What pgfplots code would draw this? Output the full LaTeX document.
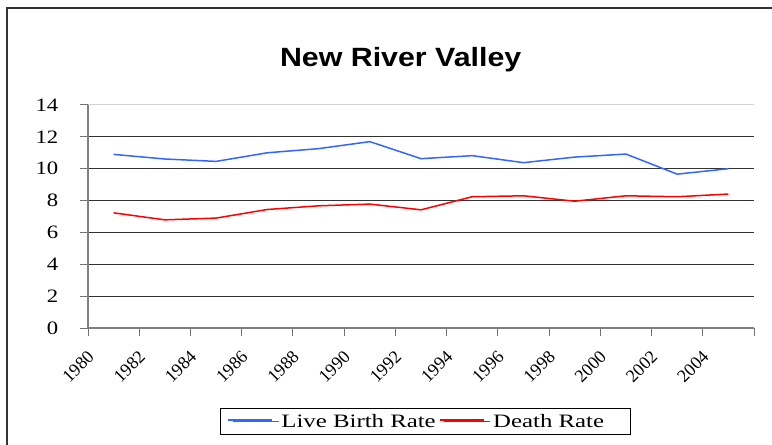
\documentclass[border=0pt]{standalone}
\usepackage{pgfplots}
\pgfplotsset{compat=1.18}
\usepackage{fontspec}
\setmainfont{Liberation Serif}
\newfontfamily\titlefont{Liberation Sans}
\definecolor{birthblue}{RGB}{51,102,255}
\definecolor{deathred}{RGB}{255,0,0}
\newcommand{\ws}[1]{\scalebox{1.2}[1]{#1}}
\newcommand{\wl}[1]{\scalebox{1.31}[1]{#1}}
\newcommand{\legline}[1]{\llap{\textcolor{#1}{\rule[6.3bp]{44bp}{1.5bp}}\hspace*{9bp}}}
\pgfplotstableread{
year birth death
1981 10.90 7.23
1983 10.61 6.79
1985 10.46 6.90
1987 11.00 7.44
1989 11.26 7.67
1991 11.70 7.78
1993 10.63 7.42
1995 10.82 8.24
1997 10.38 8.30
1999 10.73 7.96
2001 10.92 8.30
2003 9.66 8.24
2005 10.00 8.41
}\datatable
\begin{document}
\begin{tikzpicture}
\useasboundingbox (0bp,0bp) rectangle (772bp,445bp);
\fill[white] (0bp,0bp) rectangle (772bp,445bp);
\draw[black!80, line width=1.5bp] (7bp,-2bp) -- (7bp,437bp) -- (775bp,437bp);
\node[anchor=base, font=\titlefont\bfseries\fontsize{26.5}{30}\selectfont] at (400.7bp,378bp) {\scalebox{1.15}[1]{New River Valley}};
\begin{axis}[
  at={(88bp,117bp)}, anchor=south west,
  width=666bp, height=223bp, scale only axis,
  xmin=1980, xmax=2006, ymin=0, ymax=14,
  axis lines*=left,
  axis line style={draw=black!50, line width=1.3bp},
  xtick={1980,1982,...,2006},
  xticklabels={1980,1982,1984,1986,1988,1990,1992,1994,1996,1998,2000,2002,2004,{}},
  ytick={0,2,...,12},
  yticklabels={\ws{0},\ws{2},\ws{4},\ws{6},\ws{8},\ws{10},\ws{12}},
  extra y ticks={14}, extra y tick labels={\ws{14}},
  extra y tick style={grid style={draw=black!18, line width=1bp}},
  ymajorgrids,
  grid style={draw=black!80, line width=1bp},
  tick align=outside,
  tick style={draw=black!55, line width=1bp},
  major tick length=8bp,
  yticklabel style={font=\fontsize{19}{22}\selectfont, anchor=east, inner sep=0pt, xshift=-21.5bp},
  xticklabel style={font=\fontsize{18}{21}\selectfont, xshift=3bp, yshift=-18bp, rotate=45, anchor=east, inner sep=0pt},
  legend columns=2,
  legend style={at={(0.506,-0.419)}, anchor=center, line width=0.8bp,
    font=\fontsize{19}{22}\selectfont, inner xsep=12bp, inner ysep=4bp,
    /tikz/every even column/.append style={column sep=6bp}},
  legend image code/.code={\path (0bp,0bp) -- (46bp,0bp);},
  clip=false,
]
\addplot[color=birthblue, line width=1.5bp] table[x=year, y=birth] {\datatable};
\addlegendentry{\legline{birthblue}\wl{Live Birth Rate}}
\addplot[color=deathred, line width=1.5bp] table[x=year, y=death] {\datatable};
\addlegendentry{\legline{deathred}\wl{Death Rate}\hspace*{12bp}}
\end{axis}
\end{tikzpicture}
\end{document}
